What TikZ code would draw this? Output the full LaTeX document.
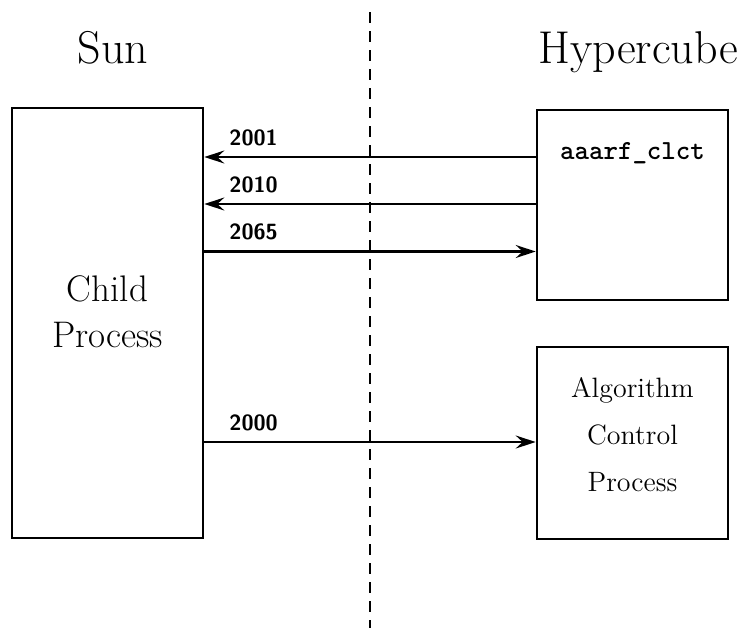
\documentclass[tikz,border=0pt]{standalone}
\usepackage{fontspec}
\usetikzlibrary{calc}
\usetikzlibrary{arrows.meta}
\usetikzlibrary{positioning}
\tikzset{
 box/.style={draw, line width=1.3pt, minimum width=95.5pt, minimum height=#1, inner sep=0},
 num/.style={anchor=south west, inner sep=0, xshift=12pt, yshift=5pt, font=\sffamily\bfseries\fontsize{11}{13}\selectfont},
 msg/.style={line width=1.1pt, >={Stealth[length=10pt,width=6.5pt,inset=3.5pt]}},
}
\begin{document}
\begin{tikzpicture}[x=.5pt,y=-.5pt]
\useasboundingbox (0,0) rectangle (749,628);
\node[box=215pt] (child) at (107.5,323) {};
\node[box=95pt] (clct) at (632.5,205) {};
\node[box=96pt] (acp) at (632.5,443) {};
\draw[line width=1.3pt, dash pattern=on 5.5pt off 4pt] (370,12) -- (370,628);
\node[anchor=base, font=\fontsize{23}{28}\selectfont] (sun) at (113,63) {Sun};
\node[anchor=base, font=\fontsize{23}{28}\selectfont] (hcube) at (638,63) {Hypercube};
\node[anchor=base, align=center, font=\fontsize{18.5}{23}\selectfont] (childtxt) at (107.5,347) {Child\\Process};
\node[anchor=base, font=\ttfamily\bfseries\fontsize{13.8}{16}\selectfont] (clcttxt) at (632.5,159) {aaarf\_clct};
\node[anchor=base, align=center, font=\fontsize{14}{23.5}\selectfont] (acptxt) at (632.5,491) {Algorithm\\Control\\Process};
\foreach \yy/\lbl in {157/2001, 204/2010}
 \draw[msg, <-] (child.east |- 0,\yy) -- node[num, pos=0] {\lbl} (clct.west |- 0,\yy);
\draw[msg, ->] (child.east |- 0,251.5) -- node[num, pos=0] {2065} (clct.west |- 0,251.5);
\draw[msg, ->] (child.east |- 0,442) -- node[num, pos=0] {2000} (acp.west |- 0,442);
\end{tikzpicture}
\end{document}
